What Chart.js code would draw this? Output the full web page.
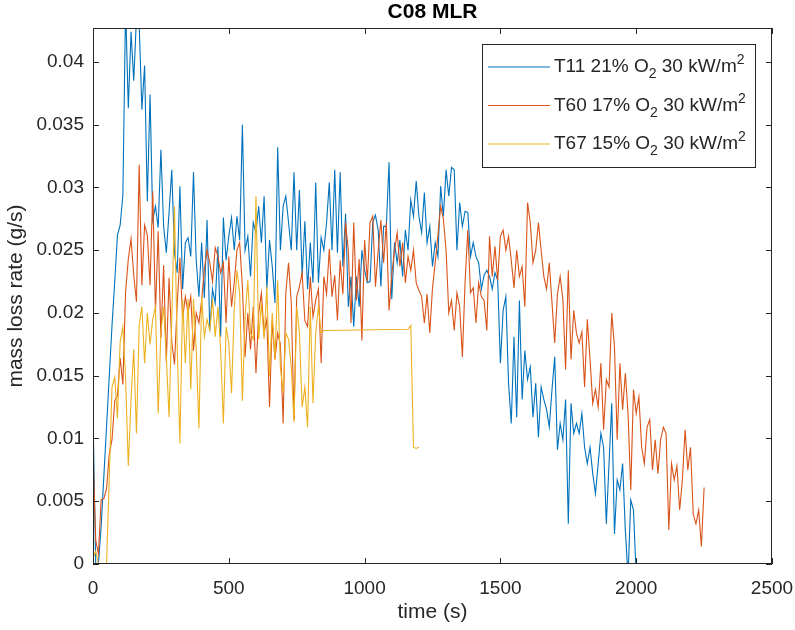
<!DOCTYPE html>
<html>
<head>
<meta charset="utf-8">
<title>C08 MLR</title>
<script src="https://cdn.jsdelivr.net/npm/chart.js@4.4.1/dist/chart.umd.min.js"></script>
<style>
  html, body { margin: 0; padding: 0; background: #fff; }
  #wrap { width: 795px; height: 630px; }
</style>
</head>
<body>
<div id="wrap"><canvas id="mlr" width="795" height="630"></canvas></div>
<script>
// sample clock (s), shared by all three tests
const timeS = [
  0,10,20,30,40,50,60,70,80,90,100,110,120,130,140,150,160,170,180,190,
  200,210,220,230,240,250,260,270,280,290,300,310,320,330,340,350,360,370,380,390,
  400,410,420,430,440,450,460,470,480,490,500,510,520,530,540,550,560,570,580,590,
  600,610,620,630,640,650,660,670,680,690,700,710,720,730,740,750,760,770,780,790,
  800,810,820,830,840,850,860,870,880,890,900,910,920,930,940,950,960,970,980,990,
  1000,1010,1020,1030,1040,1050,1060,1070,1080,1090,1100,1110,1120,1130,1140,1150,1160,1170,1180,1190,
  1200,1210,1220,1230,1240,1250,1260,1270,1280,1290,1300,1310,1320,1330,1340,1350,1360,1370,1380,1390,
  1400,1410,1420,1430,1440,1450,1460,1470,1480,1490,1500,1510,1520,1530,1540,1550,1560,1570,1580,1590,
  1600,1610,1620,1630,1640,1650,1660,1670,1680,1690,1700,1710,1720,1730,1740,1750,1760,1770,1780,1790,
  1800,1810,1820,1830,1840,1850,1860,1870,1880,1890,1900,1910,1920,1930,1940,1950,1960,1970,1980,1990,
  2000,2010,2020,2030,2040,2050,2060,2070,2080,2090,2100,2110,2120,2130,2140,2150,2160,2170,2180,2190,
  2200,2210,2220,2230,2240,2250
];

// mass loss rate (g/s)
const t11 = [
  .012,0,0,.003,.007,.011,.015,.019,.0225,.0262,.027,.0294,.0445,.0363,.0424,.0385,.0435,.043,.0362,.0397,
  .0289,.0374,.0274,.0285,.0268,.033,.0269,.0248,.028,.0314,.0248,.0232,.0301,.0219,.0256,.026,.0245,.0312,.0242,.0213,
  .0256,.0212,.0274,.0186,.0219,.0208,.0253,.0181,.0276,.0242,.0261,.0276,.025,.0277,.0258,.035,.025,.0261,.0229,.0272,
  .0264,.0285,.0256,.0293,.0219,.0258,.0237,.0208,.0332,.025,.0285,.0293,.0272,.025,.0312,.025,.0298,.0229,.0273,.0219,
  .0256,.0224,.0304,.0224,.026,.025,.0272,.0304,.025,.0314,.0248,.0312,.0237,.0279,.0205,.0229,.0189,.0229,.0205,.025,
  .0234,.0224,.0225,.0272,.0278,.0266,.0221,.0269,.0269,.032,.0211,.0256,.024,.0258,.0229,.0266,.025,.029,.0277,.0305,
  .0277,.0264,.0296,.0256,.0269,.0237,.0256,.0245,.0301,.0277,.0314,.0293,.0316,.0314,.025,.0288,.0269,.0281,.028,.0245,
  .0256,.0245,.024,.0219,.023,.0234,.0229,.0219,.0232,.0226,.016,.0202,.0213,.0144,.0112,.0181,.0117,.021,.0131,.017,
  .0147,.0157,.0117,.0144,.0101,.0141,.0131,.0123,.0109,.0139,.0165,.0091,.0112,.0099,.0131,.0032,.0128,.0104,.0112,.0104,
  .012,.0093,.008,.0093,.0072,.0056,.008,.0104,.0093,.0032,.008,.0128,.0024,.0067,.0059,.008,.0027,-.001,.0051,.0043,
  -.001
];

const t60 = [
  .0088,.0019,.0008,.0051,.0052,.006,.0088,.0099,.013,.0134,.0164,.0143,.0217,.0243,.0259,.023,.0209,.0318,.0222,.027,
  .0262,.0222,.0297,.0201,.0265,.018,.0238,.0161,.0228,.0177,.0159,.0207,.0244,.0196,.0213,.02,.0213,.017,.02,.0192,
  .021,.0235,.025,.024,.0225,.0252,.0245,.0232,.024,.0192,.0245,.0205,.0224,.025,.0256,.0221,.0165,.02,.0171,.0205,
  .0152,.02,.0216,.0184,.0195,.0125,.0194,.0163,.0184,.0175,.0112,.0216,.024,.0208,.0115,.0213,.0221,.0232,.0194,.0189,
  .0229,.0197,.021,.0219,.016,.0229,.0215,.0251,.0213,.023,.0194,.0242,.0215,.0272,.025,.0192,.0272,.021,.0243,.0178,
  .0258,.0225,.0272,.0277,.0221,.025,.0274,.024,.0272,.0202,.023,.025,.0264,.0237,.0256,.0224,.0245,.0234,.025,.0224,
  .0218,.0213,.0192,.0215,.0184,.022,.024,.0262,.0285,.0275,.025,.02,.021,.0186,.0216,.0205,.0165,.0225,.0266,.0216,
  .022,.0192,.0224,.0213,.021,.0186,.0261,.0229,.0253,.0226,.0261,.0266,.025,.0261,.0242,.022,.025,.0229,.0237,.0205,
  .0288,.0272,.024,.025,.0272,.025,.0229,.0219,.024,.0208,.0176,.0215,.0229,.0211,.0155,.0234,.0163,.0202,.0184,.0176,
  .0185,.0141,.0195,.0163,.0128,.0139,.0125,.016,.0107,.0147,.0141,.02,.0173,.0099,.016,.0123,.0152,.012,.0059,.0139,
  .012,.0133,.0093,.008,.0109,.0115,.0075,.0099,.0072,.0099,.0109,.0104,.0027,.008,.0067,.0078,.0043,.0067,.0107,.0075,
  .0093,.004,.0032,.0043,.0014,.0061
];

// logging gap between ~850 s and ~1160 s is left null and bridged straight
const t67 = [
  .0005,.001,0,0,0,0,.007,.0141,.0149,.0116,.0177,.0189,.0148,.0078,.0131,.0171,.0104,.019,.0205,.016,
  .02,.0175,.0195,.0205,.012,.0185,.0205,.0165,.0117,.0195,.0285,.0173,.0096,.0211,.016,.0211,.0139,.0211,.0171,.0108,
  .0213,.0181,.0195,.0186,.0211,.0181,.0205,.0171,.0112,.0189,.0176,.0136,.0203,.0234,.0216,.013,.0197,.0226,.0184,.0179,
  .0293,.0179,.0208,.0179,.0221,.015,.02,.0163,.0226,.0157,.0136,.0184,.0179,.0157,.0113,.0205,.0184,.0125,.0141,.0109,
  .0205,.0128,.0184,.0205,.0184,.0186,null,null,null,null,null,null,null,null,null,null,null,null,null,null,
  null,null,null,null,null,null,null,null,null,null,null,null,null,null,null,null,.0187,.019,.0093,.0092,
  .0093
];

const seriesNames = ['T11 21% O_2 30 kW/m^2', 'T60 17% O_2 30 kW/m^2', 'T67 15% O_2 30 kW/m^2'];
const seriesColors = ['#0072BD', '#D95319', '#EDB120'];
const yTicks = [0, 0.005, 0.01, 0.015, 0.02, 0.025, 0.03, 0.035, 0.04];

const FONT = '"Liberation Sans", Arial, Helvetica, sans-serif';
const INK = '#262626';

const asPoints = vals => vals.map((v, i) => ({ x: timeS[i], y: v }));

// draws "O_2" / "m^2" style labels with a small lowered/raised digit
function drawRichText(ctx, str, x, y, size) {
  const parts = str.split(/([_^]\d)/);
  ctx.textBaseline = 'middle';
  ctx.textAlign = 'left';
  for (const p of parts) {
    if (!p) continue;
    if (p[0] === '_' || p[0] === '^') {
      ctx.font = Math.round(size * 0.72) + 'px ' + FONT;
      const dy = p[0] === '_' ? size * 0.38 : -size * 0.36;
      ctx.fillText(p[1], x, y + dy);
      x += ctx.measureText(p[1]).width;
    } else {
      ctx.font = size + 'px ' + FONT;
      ctx.fillText(p, x, y);
      x += ctx.measureText(p).width;
    }
  }
}

const axesDecor = {
  id: 'axesDecor',
  afterDraw(chart) {
    const { ctx, chartArea: a, scales: { x, y } } = chart;
    ctx.save();
    ctx.strokeStyle = INK;
    ctx.lineWidth = 1;
    ctx.strokeRect(a.left + 0.5, a.top + 0.5, a.right - a.left - 1, a.bottom - a.top - 1);

    // inward ticks on all four sides
    ctx.beginPath();
    x.ticks.forEach(t => {
      const px = Math.round(x.getPixelForValue(t.value)) + 0.5;
      ctx.moveTo(px, a.bottom); ctx.lineTo(px, a.bottom - 6);
      ctx.moveTo(px, a.top); ctx.lineTo(px, a.top + 6);
    });
    y.ticks.forEach(t => {
      const py = Math.round(y.getPixelForValue(t.value)) + 0.5;
      ctx.moveTo(a.left, py); ctx.lineTo(a.left + 6, py);
      ctx.moveTo(a.right, py); ctx.lineTo(a.right - 6, py);
    });
    ctx.stroke();

    const cx = (a.left + a.right) / 2;
    ctx.fillStyle = '#000';
    ctx.textAlign = 'center';
    ctx.textBaseline = 'middle';
    ctx.font = 'bold 21px ' + FONT;
    ctx.fillText('C08 MLR', cx, 12);

    ctx.fillStyle = INK;
    ctx.font = '21px ' + FONT;
    ctx.fillText('time (s)', cx, 612);
    ctx.save();
    ctx.translate(16, (a.top + a.bottom) / 2);
    ctx.rotate(-Math.PI / 2);
    ctx.fillText('mass loss rate (g/s)', 0, 0);
    ctx.restore();

    // legend box, top right
    const lx = 482, ly = 44, lw = 274, lh = 124;
    ctx.fillStyle = '#fff';
    ctx.fillRect(lx, ly, lw, lh);
    ctx.strokeStyle = INK;
    ctx.strokeRect(lx + 0.5, ly + 0.5, lw - 1, lh - 1);
    seriesNames.forEach((name, i) => {
      const ry = 67 + i * 38.5;
      ctx.strokeStyle = seriesColors[i];
      ctx.lineWidth = 1.2;
      ctx.beginPath();
      ctx.moveTo(488, ry); ctx.lineTo(550, ry);
      ctx.stroke();
      ctx.fillStyle = INK;
      drawRichText(ctx, name, 554, ry, 19);
    });
    ctx.restore();
  }
};

new Chart(document.getElementById('mlr'), {
  type: 'line',
  data: {
    datasets: [t11, t60, t67].map((vals, i) => ({
      label: seriesNames[i],
      data: asPoints(vals),
      borderColor: seriesColors[i],
      borderWidth: 1.1,
      pointRadius: 0,
      tension: 0,
      spanGaps: true,
      order: 3 - i
    }))
  },
  options: {
    responsive: false,
    animation: false,
    devicePixelRatio: 1,
    layout: { autoPadding: false, padding: { top: 28, right: 23, left: 0, bottom: 0 } },
    plugins: { legend: { display: false }, tooltip: { enabled: false } },
    scales: {
      x: {
        type: 'linear',
        min: 0,
        max: 2500,
        grid: { display: false, drawTicks: false },
        border: { display: false },
        ticks: {
          stepSize: 500,
          padding: 13,
          color: INK,
          font: { family: FONT, size: 19 },
          callback: v => String(v)
        },
        afterFit: s => { s.height = 66; s.paddingLeft = 0; s.paddingRight = 0; }
      },
      y: {
        min: 0,
        max: 0.0427,
        grid: { display: false, drawTicks: false },
        border: { display: false },
        afterBuildTicks: s => { s.ticks = yTicks.map(v => ({ value: v })); },
        ticks: {
          padding: 9,
          color: INK,
          font: { family: FONT, size: 19 },
          callback: v => String(parseFloat(v.toFixed(3)))
        },
        afterFit: s => { s.width = 93; s.paddingTop = 0; s.paddingBottom = 0; }
      }
    }
  },
  plugins: [axesDecor]
});
</script>
</body>
</html>
